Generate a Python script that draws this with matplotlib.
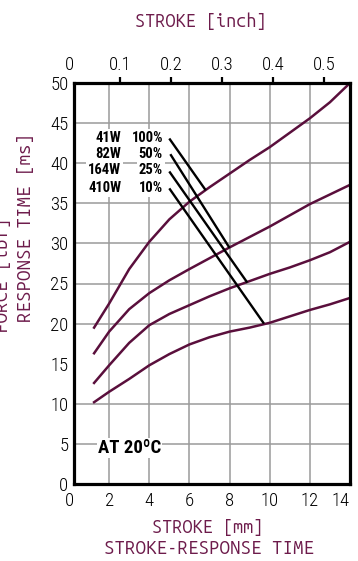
import matplotlib.pyplot as plt

plt.rcParams['font.family'] = ['Roboto Condensed', 'DejaVu Sans']

# stroke [mm] / response time [ms]
stroke_a = [1.25, 2, 3, 4, 5, 6, 7, 8, 9, 10, 11, 12, 13, 14]
time_a = [19.5, 22.5, 26.8, 30.2, 33.0, 35.2, 37.0, 38.7, 40.4, 42.0, 43.8, 45.6, 47.6, 50.0]

stroke_b = [1.25, 2, 3, 4, 5, 6, 8, 10, 12, 14]
time_b = [16.3, 19.0, 21.8, 23.8, 25.4, 26.8, 29.5, 32.1, 34.9, 37.3]

stroke_c = [1.25, 2, 3, 4, 5, 6, 7, 8, 9, 10, 11, 12, 13, 14]
time_c = [12.6, 14.8, 17.6, 19.8, 21.2, 22.3, 23.4, 24.4, 25.3, 26.2, 27.0, 27.9, 28.9, 30.2]

stroke_d = [1.25, 2, 3, 4, 5, 6, 7, 8, 9, 10, 11, 12, 13, 14]
time_d = [10.2, 11.5, 13.1, 14.8, 16.2, 17.4, 18.3, 19.0, 19.5, 20.1, 20.9, 21.7, 22.4, 23.2]

curves = [(stroke_a, time_a), (stroke_b, time_b), (stroke_c, time_c), (stroke_d, time_d)]

# pointer lines from the power labels to each curve
power_labels = ["41W", "82W", "164W", "410W"]
duty_labels = ["100%", "50%", "25%", "10%"]
label_y = [43.2, 41.1, 39.1, 36.9]
line_start = [(5.03, 42.96), (5.08, 41.0), (5.03, 38.85), (5.03, 36.74)]
line_end = [(6.78, 36.74), (7.97, 29.55), (8.85, 25.23), (9.68, 20.12)]

x_ticks = [0, 2, 4, 6, 8, 10, 12, 14]
y_ticks = [0, 5, 10, 15, 20, 25, 30, 35, 40, 45, 50]
x_grid = [2, 4, 6, 8, 10, 12]
y_grid = [5, 10, 20, 25, 30, 35, 40, 45]
inch_ticks = [0, 0.1, 0.2, 0.3, 0.4, 0.5]

maroon = '#5a0f3c'
text_maroon = '#6d1b4b'
x_left = 0.25

fig = plt.figure(figsize=(3.58, 5.61), dpi=100)
ax = fig.add_axes([69 / 358, 77 / 561, 281 / 358, 401 / 561])
ax.set_xlim(0, 14)
ax.set_ylim(0, 50)

ax.hlines(y_grid, x_left, 14, color='#9a9a9a', lw=1.1, zorder=1)
ax.vlines(x_grid, 0, 50, color='#9a9a9a', lw=1.1, zorder=1)

for xs, ys in curves:
    ax.plot(xs, ys, color=maroon, lw=1.8, zorder=3)

for (x0, y0), (x1, y1) in zip(line_start, line_end):
    ax.plot([x0, x1], [y0, y1], color='black', lw=1.7, zorder=4)

for p, d, y in zip(power_labels, duty_labels, label_y):
    ax.text(2.6, y, p, ha='right', va='center', fontsize=10.5, fontweight='bold',
            bbox=dict(fc='white', ec='none', pad=1.2), zorder=5)
    ax.text(4.68, y, d, ha='right', va='center', fontsize=10.5, fontweight='bold',
            bbox=dict(fc='white', ec='none', pad=1.2), zorder=5)

ax.text(1.44, 4.5, "AT 20ºC", ha='left', va='center', fontsize=13.5, fontweight='bold',
        bbox=dict(fc='white', ec='none', pad=1), zorder=5)

for side in ['left', 'right', 'top', 'bottom']:
    ax.spines[side].set_linewidth(2.3)
    ax.spines[side].set_zorder(6)
ax.spines['left'].set_position(('data', x_left))
ax.spines['top'].set_bounds(x_left, 14)
ax.spines['bottom'].set_bounds(x_left, 14)

ax.set_xticks(x_ticks)
ax.set_yticks(y_ticks)
ax.tick_params(axis='x', length=0, pad=6, labelsize=13.5)
ax.tick_params(axis='y', length=0, pad=4, labelsize=13.5)
for lab in ax.get_xticklabels() + ax.get_yticklabels():
    lab.set_fontweight('light')
ax.get_xticklabels()[-1].set_ha('right')

top = ax.secondary_xaxis('top', functions=(lambda x: x / 25.4, lambda x: x * 25.4))
top.set_xticks(inch_ticks)
top.set_xticklabels(["0"] + [f"{t:.1f}" for t in inch_ticks[1:]])
top.spines['top'].set_visible(False)
top.tick_params(axis='x', direction='out', length=4.5, width=1.6, pad=2, labelsize=13.5)
for lab in top.get_xticklabels():
    lab.set_fontweight('light')
top.xaxis.get_major_ticks()[0].tick1line.set_visible(False)
top.xaxis.get_major_ticks()[0].tick2line.set_visible(False)

mono = 'Ubuntu Mono'
fig.text(201 / 358, 1 - 21 / 561, "STROKE [inch]", ha='center', va='center',
         family=mono, fontsize=13, color=text_maroon)
fig.text(208 / 358, 1 - 527 / 561, "STROKE [mm]", ha='center', va='center',
         family=mono, fontsize=13, color=text_maroon)
fig.text(209 / 358, 1 - 548 / 561, "STROKE-RESPONSE TIME", ha='center', va='center',
         family=mono, fontsize=13.5, color=text_maroon)
fig.text(26 / 358, 1 - 227 / 561, "RESPONSE TIME [ms]", ha='center', va='center',
         rotation=90, family=mono, fontsize=13.5, color=text_maroon)
fig.text(2 / 358, 1 - 275 / 561, "FORCE [lbf]", ha='center', va='center',
         rotation=90, family=mono, fontsize=13.5, color=text_maroon)

fig.savefig("out.png", dpi=100)
